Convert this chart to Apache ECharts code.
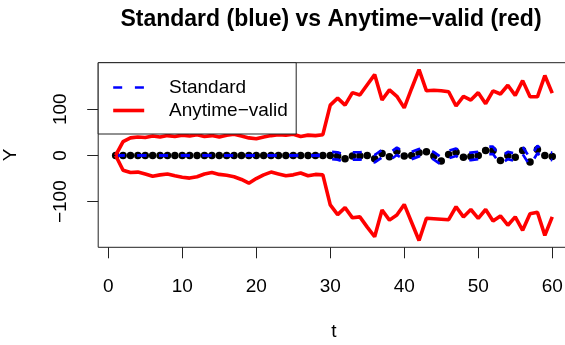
<!DOCTYPE html>
<html>
<head>
<meta charset="utf-8">
<script src="https://cdn.jsdelivr.net/npm/echarts@6/dist/echarts.min.js"></script>
<style>html,body{margin:0;padding:0;background:#fff}#c{width:565px;height:345px}</style>
</head>
<body>
<div id="c"></div>
<script>
// ---- data ----
var tValues = [1,2,3,4,5,6,7,8,9,10,11,12,13,14,15,16,17,18,19,20,21,22,23,24,25,26,27,28,29,30,
               31,32,33,34,35,36,37,38,39,40,41,42,43,44,45,46,47,48,49,50,51,52,53,54,55,56,57,58,59,60];
var estimate = [0,0,0,0,0,0,0,0,0,0,0,0,0,0,0,0,0,0,0,0,0,0,0,0,0,0,0,0,
                0,0,-1,-7,-1,-1,0,-7,4,-3,9,-1,0,6,8,-1,-12,2,7,-4,-2,0,11,11,-11,0,-4,11,-14,13,0,-2];
var standardUpper = [0,0,0,0,0,0,0,0,0,0,0,0,0,0,0,0,0,0,0,0,0,0,0,0,0,0,0,0,
                2,8,7,1,7,7,8,1,12,5,17,7,8,14,16,7,-4,10,15,4,6,8,19,19,-3,8,4,19,-6,21,8,6];
var standardLower = [0,0,0,0,0,0,0,0,0,0,0,0,0,0,0,0,0,0,0,0,0,0,0,0,0,0,0,0,
                -2,-8,-9,-15,-9,-9,-8,-15,-4,-11,1,-9,-8,-2,0,-9,-20,-6,-1,-12,-10,-8,3,3,-19,-8,-12,3,-22,5,-8,-10];
var anytimeUpper = [0,30,38,40,39,42,40,43,41,44,42,45,41,43,40,44,46,42,38,36,40,43,45,44,46,41,44,43,45,
                109,124,109,136,131,153,175,120,142,128,103,145,186,140,141,140,138,107,128,120,136,112,140,133,152,130,162,127,127,173,135];
var anytimeLower = [0,-32,-37,-36,-40,-45,-42,-40,-44,-47,-49,-46,-40,-37,-41,-43,-46,-52,-60,-50,-42,-36,-40,-44,-42,-38,-44,-41,-42,
                -107,-128,-113,-135,-133,-155,-176,-118,-140,-129,-106,-145,-184,-136,-137,-138,-139,-111,-133,-117,-136,-117,-142,-131,-151,-133,-162,-126,-123,-173,-133];
var xTicks = [0,10,20,30,40,50,60];
var yTicks = [-100,0,100];
var titleText = 'Standard (blue) vs Anytime\u2212valid (red)';
var nameStandard = 'Standard';
var nameAnytime = 'Anytime\u2212valid';

function pairs(ys){ return tValues.map(function(t,i){ return [t, ys[i]]; }); }
var FONT = 'Liberation Sans, Arial, Helvetica, sans-serif';
function minusFmt(v){ return String(v).replace('-', '\u2212'); }

var BLUE = '#0000ff', RED = '#ff0000';
var blueStyle = {color: BLUE, width: 2.7, type: [9, 12.7]};
var redStyle = {color: RED, width: 3.6};

// legend box (drawn as graphic so it matches the R legend exactly)
var LX = 98.2, LY = 62.7, LW = 198, LH = 71.3;
var legendGraphic = [
  {type: 'rect', z: 100, shape: {x: LX, y: LY, width: LW, height: LH},
   style: {fill: '#fff', stroke: '#222', lineWidth: 1}},
  {type: 'line', z: 101, shape: {x1: LX + 15, y1: 87.5, x2: LX + 46, y2: 87.5},
   style: {stroke: BLUE, lineWidth: 2.7, lineDash: [9, 12.7], lineCap: 'butt'}},
  {type: 'line', z: 101, shape: {x1: LX + 15, y1: 110.5, x2: LX + 46, y2: 110.5},
   style: {stroke: RED, lineWidth: 3.6, lineCap: 'butt'}},
  {type: 'text', z: 101, x: 169, y: 87.5,
   style: {text: nameStandard, font: '19px ' + FONT, fill: '#000', textAlign: 'left', textVerticalAlign: 'middle'}},
  {type: 'text', z: 101, x: 169, y: 110.5,
   style: {text: nameAnytime, font: '19px ' + FONT, fill: '#000', textAlign: 'left', textVerticalAlign: 'middle'}}
];

var chart = echarts.init(document.getElementById('c'), null, {renderer:'canvas'});
chart.setOption({
  animation: false,
  backgroundColor: '#fff',
  title: {
    text: titleText, left: 331, top: 8, padding: 0, textAlign: 'center',
    textStyle: {fontFamily: FONT, fontSize: 23, fontWeight: 'bold', color: '#000'}
  },
  grid: {left: 98.2, top: 62.7, width: 471.5, height: 184.6, show: true,
         borderColor: '#222', borderWidth: 1, backgroundColor: 'transparent',
         containLabel: false, outerBoundsMode: 'none'},
  graphic: legendGraphic,
  xAxis: {
    type: 'value', min: -1.36, max: 62.36, position: 'bottom',
    name: 't', nameLocation: 'middle', nameGap: 75,
    nameTextStyle: {fontFamily: FONT, fontSize: 19, color: '#000'},
    splitLine: {show: false},
    axisLine: {show: false, onZero: false},
    axisTick: {show: true, inside: false, customValues: xTicks, length: 11, lineStyle: {color: '#222', width: 1}},
    axisLabel: {customValues: xTicks, margin: 30, fontFamily: FONT, fontSize: 19, color: '#000', formatter: minusFmt}
  },
  yAxis: {
    type: 'value', min: -198.8, max: 200.8, position: 'left',
    name: 'Y', nameLocation: 'middle', nameGap: 78, nameRotate: 90,
    nameTextStyle: {fontFamily: FONT, fontSize: 19, color: '#000'},
    splitLine: {show: false},
    axisLine: {show: false, onZero: false},
    axisTick: {show: true, inside: false, customValues: yTicks, length: 11, lineStyle: {color: '#222', width: 1}},
    axisLabel: {customValues: yTicks, rotate: 90, margin: 27.5, fontFamily: FONT, fontSize: 19, color: '#000', formatter: minusFmt}
  },
  series: [
    {name: 'Estimate', type: 'scatter', data: pairs(estimate), symbol: 'circle', symbolSize: 7.5,
     itemStyle: {color: '#000', opacity: 1}, z: 2, silent: true},
    {name: nameStandard, type: 'line', data: pairs(standardLower), symbol: 'none', z: 3, silent: true,
     lineStyle: blueStyle, itemStyle: {color: BLUE}},
    {name: nameStandard, type: 'line', data: pairs(standardUpper), symbol: 'none', z: 3, silent: true,
     lineStyle: blueStyle, itemStyle: {color: BLUE}},
    {name: nameAnytime, type: 'line', data: pairs(anytimeUpper), symbol: 'none', z: 3, silent: true,
     lineStyle: redStyle, itemStyle: {color: RED}},
    {name: nameAnytime, type: 'line', data: pairs(anytimeLower), symbol: 'none', z: 3, silent: true,
     lineStyle: redStyle, itemStyle: {color: RED}}
  ]
});
</script>
</body>
</html>
